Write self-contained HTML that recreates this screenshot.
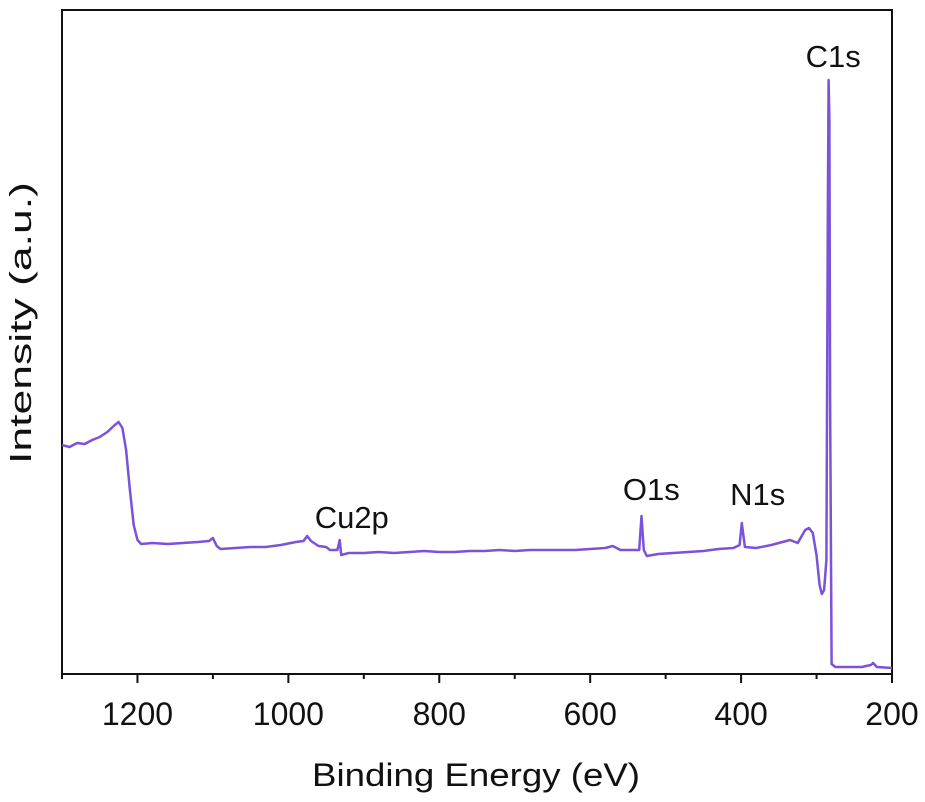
<!DOCTYPE html>
<html><head><meta charset="utf-8"><style>
html,body{margin:0;padding:0;background:#fff;}
svg text{font-family:"Liberation Sans",sans-serif;fill:#111;}
</style></head><body>
<svg id="chart" width="925" height="797" viewBox="0 0 925 797" xmlns="http://www.w3.org/2000/svg">
<g id="axes"></g>
<g id="series"></g>
<g id="labels"></g>
</svg>
<script>
const energies=[1300,1290,1280,1270,1260,1250,1240,1230,1225,1220,1215,1210,1205,1200,1195,1180,1160,1140,1120,1105,1100,1095,1090,1070,1050,1030,1010,990,980,975,970,960,950,945,935,932,930,920,900,880,860,840,820,800,780,760,740,720,700,680,660,640,620,600,580,570,560,545,535,532,529,525,510,490,470,450,430,410,402,399,395,380,360,345,335,325,315,310,305,300,296,293,290,287,285,284,283,282,280,275,260,240,228,225,220,200];
const intensities=[229,227,231,230,234,237,242,249,252,246,224,184,149,134,130,131,130,131,132,133,136,128,125,126,127,127,129,132,133,138,133,128,127,124,124,134,119,121,121,122,121,122,123,122,122,123,123,124,123,124,124,124,124,125,126,128,124,124,124,158,124,118,120,121,122,123,125,126,129,151,127,126,129,132,134,131,144,146,141,119,89,80,84,114,474,594,554,274,10,7,7,7,9,11,7,6];
const xTicks=[1200,1000,800,600,400,200];
const xMinorTicks=[1300,1100,900,700,500,300];
const peakNames=["C1s","N1s","O1s","Cu2p"];
const peakEnergies=[278,378,519,916];
const peakIntensities=[607,169,174,146];

const L=62,R=892,T=10,B=674;
const xMin=1300,xMax=200,yMin=0,yMax=664;
const xs=e=>L+(xMin-e)/(xMin-xMax)*(R-L);
const ys=v=>B-(v-yMin)/(yMax-yMin)*(B-T);
const NS="http://www.w3.org/2000/svg";
function mk(tag,parent){const el=document.createElementNS(NS,tag);document.getElementById(parent).appendChild(el);return el;}

const frame=mk('rect','axes');


frame.setAttribute('x',L);frame.setAttribute('y',T);frame.setAttribute('width',R-L);frame.setAttribute('height',B-T);
frame.setAttribute('fill','none');frame.setAttribute('stroke','#111');frame.setAttribute('stroke-width','2');

xTicks.forEach(t=>{
  const ln=mk('line','axes');
  
  
  ln.setAttribute('x1',xs(t));ln.setAttribute('x2',xs(t));ln.setAttribute('y1',B);ln.setAttribute('y2',B+9);
  ln.setAttribute('stroke','#111');ln.setAttribute('stroke-width','2');
  const tx=mk('text','axes');
  
  
  tx.setAttribute('x',xs(t));tx.setAttribute('y',725);tx.setAttribute('text-anchor','middle');tx.setAttribute('font-size','32');
  tx.textContent=t;
});
xMinorTicks.forEach(t=>{
  const ln=mk('line','axes');
  
  
  ln.setAttribute('x1',xs(t));ln.setAttribute('x2',xs(t));ln.setAttribute('y1',B);ln.setAttribute('y2',B+5);
  ln.setAttribute('stroke','#111');ln.setAttribute('stroke-width','2');
});

const xt=mk('text','axes');


xt.setAttribute('x',476);xt.setAttribute('y',786);xt.setAttribute('text-anchor','middle');xt.setAttribute('font-size','32');
xt.setAttribute('textLength','328');xt.setAttribute('lengthAdjust','spacingAndGlyphs');
xt.textContent='Binding Energy (eV)';
const yt=mk('text','axes');


yt.setAttribute('transform','translate(31,323) rotate(-90)');yt.setAttribute('text-anchor','middle');yt.setAttribute('font-size','31');
yt.setAttribute('textLength','282');yt.setAttribute('lengthAdjust','spacingAndGlyphs');
yt.textContent='Intensity (a.u.)';

const path=mk('path','series');


path.setAttribute('d',energies.map((e,i)=>(i?'L':'M')+xs(e).toFixed(1)+' '+ys(intensities[i]).toFixed(1)).join(' '));
path.setAttribute('fill','none');path.setAttribute('stroke','#7b52d8');path.setAttribute('stroke-width','2.5');path.setAttribute('stroke-linejoin','round');

peakNames.forEach((n,i)=>{
  const tx=mk('text','labels');
  
  
  tx.setAttribute('x',xs(peakEnergies[i]));tx.setAttribute('y',ys(peakIntensities[i]));
  tx.setAttribute('text-anchor','middle');tx.setAttribute('font-size','31');
  tx.textContent=n;
});
</script>
</body></html>
